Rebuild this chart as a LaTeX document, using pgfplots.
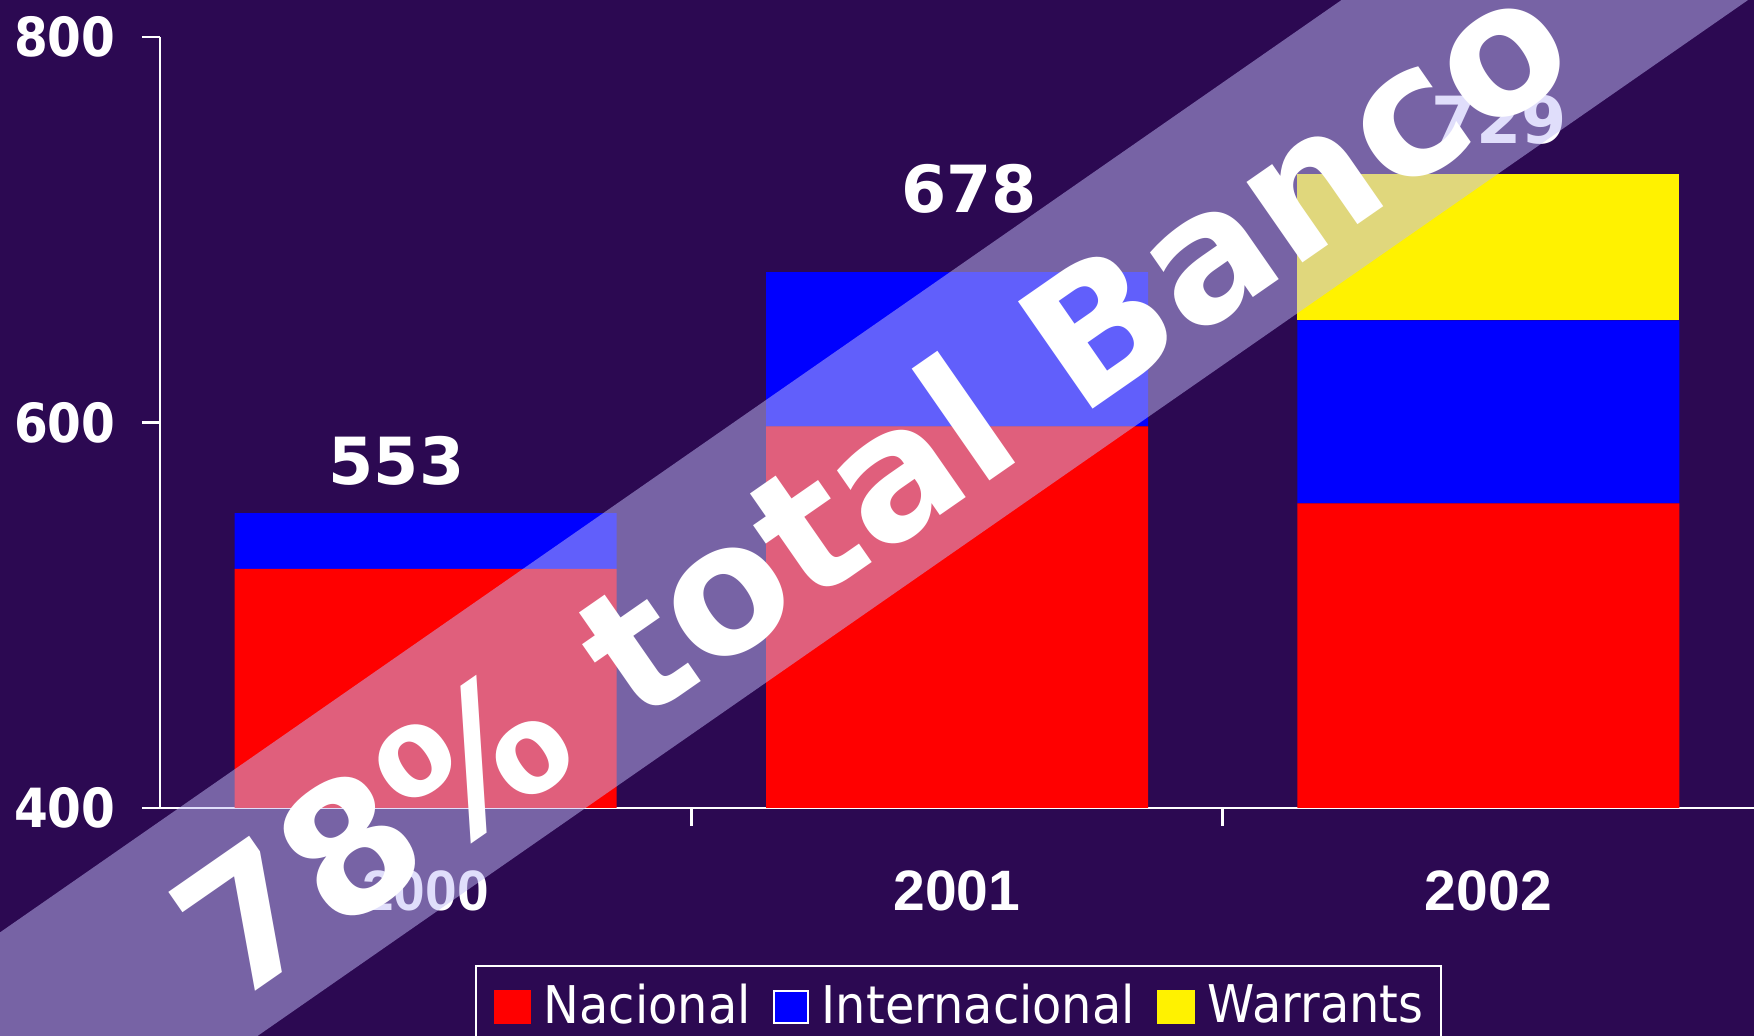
\documentclass[border=0pt]{standalone}
\usepackage{pgfplots}
\pgfplotsset{compat=1.18}
\usepackage{fontspec}
\setmainfont{DejaVu Sans}
\newfontfamily\condfont[FakeStretch=0.92]{DejaVu Sans}
\newfontfamily\ycondfont[FakeStretch=0.9]{DejaVu Sans}
\newfontfamily\arialfont{Liberation Sans}
\definecolor{bg}{RGB}{44,9,82}
\definecolor{bandc}{RGB}{195,190,248}
\begin{document}
\begin{tikzpicture}
\path[use as bounding box] (0,0) rectangle (438.5pt,259pt);
\fill[bg] (0,0) rectangle (438.5pt,259pt);
\begin{axis}[
  at={(40pt,57pt)}, anchor=south west,
  scale only axis, width=398.5pt, height=192.75pt,
  xmin=-0.5, xmax=2.5, ymin=400, ymax=800,
  ybar stacked, bar width=95.5pt,
  axis x line*=bottom, axis y line*=left,
  axis line style={white, line width=0.6pt},
  tick style={white, line width=0.6pt},
  tick align=outside, major tick length=4.5pt,
  ytick={400,600,800}, yticklabels={400,600,800},
  yticklabel style={font=\ycondfont\bfseries\fontsize{13.5}{13.5}\selectfont, text=white, anchor=east, inner sep=0pt, xshift=-6.4pt},
  xtick={0.5,1.5}, xticklabels={},
  extra x ticks={0,1,2}, extra x tick labels={2000,2001,2002},
  extra x tick style={major tick length=0pt},
  xticklabel style={font=\arialfont\bfseries\fontsize{14.25}{14.25}\selectfont, text=white, anchor=base, inner sep=0pt, yshift=-25.75pt},
  legend columns=3,
  legend style={at={(0.1976,-0.2036)}, anchor=north west, draw=white, line width=0.5pt, fill=bg, text=white,
    font=\condfont\fontsize{13}{13}\selectfont, inner sep=4.5pt,
    /tikz/every odd column/.append style={column sep=3.2pt},
    /tikz/every even column/.append style={column sep=5.6pt},
    nodes={inner sep=0pt}},
  legend cell align=left,
]
\addplot[fill=red, draw=none, legend image code/.code={\fill[red] (0pt,-4.25pt) rectangle (9.25pt,4.25pt);}]
  coordinates {(0,524) (1,598) (2,558)};
\addlegendentry{Nacional}
\addplot[fill=blue, draw=none, legend image code/.code={\filldraw[fill=blue, draw=white, line width=0.5pt] (0.25pt,-4pt) rectangle (8.75pt,4pt);}]
  coordinates {(0,29) (1,80) (2,95)};
\addlegendentry{Internacional}
\addplot[fill=yellow, draw=none, legend image code/.code={\fill[yellow] (0pt,-4.25pt) rectangle (9.5pt,4.25pt);}]
  coordinates {(0,0) (1,0) (2,76)};
\addlegendentry{Warrants}
\node[font=\bfseries\fontsize{16.25}{16.25}\selectfont, text=white, anchor=base, inner sep=0pt] at (axis cs:-0.055,568) {553};
\node[font=\bfseries\fontsize{16.25}{16.25}\selectfont, text=white, anchor=base, inner sep=0pt] at (axis cs:1.023,709) {678};
\node[font=\bfseries\fontsize{16.25}{16.25}\selectfont, text=white, anchor=base, inner sep=0pt] at (axis cs:2.02,745) {729};
\end{axis}
\begin{scope}
\clip (0,0) rectangle (438.5pt,259pt);
\begin{scope}[shift={(223.75pt,126pt)}, rotate=34.8]
\fill[bandc, opacity=0.5] (-700pt,-12.5pt) rectangle (700pt,45.5pt);
\node[transform shape, font=\bfseries\fontsize{44.8}{44.8}\selectfont, text=white, anchor=base, inner sep=0pt] at (2pt,-3pt) {78\% total Banco};
\end{scope}
\end{scope}
\end{tikzpicture}
\end{document}
